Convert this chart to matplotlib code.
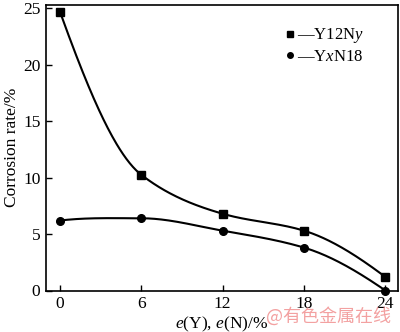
import numpy as np
import matplotlib
matplotlib.use("Agg")
import matplotlib.pyplot as plt
from matplotlib.lines import Line2D

plt.rcParams['font.family'] = ['Liberation Serif', 'DejaVu Serif']
plt.rcParams['mathtext.fontset'] = 'custom'
plt.rcParams['mathtext.rm'] = 'Liberation Serif'
plt.rcParams['mathtext.it'] = 'Liberation Serif:italic'

# 數據
content = [0, 6, 12, 18, 24]
y12ny = [24.7, 10.25, 6.8, 5.3, 1.2]
yxn18 = [6.2, 6.4, 5.3, 3.8, 0.0]
xticks = [0, 6, 12, 18, 24]
yticks = [0, 5, 10, 15, 20, 25]


def pchip(x, y, xs):
    # 單調三次插值, 只用來畫平滑曲線
    x = np.asarray(x, float)
    y = np.asarray(y, float)
    h = np.diff(x)
    d = np.diff(y) / h
    n = len(x)
    m = np.zeros(n)
    for k in range(1, n - 1):
        if d[k - 1] * d[k] > 0:
            w1 = 2 * h[k] + h[k - 1]
            w2 = h[k] + 2 * h[k - 1]
            m[k] = (w1 + w2) / (w1 / d[k - 1] + w2 / d[k])
    m[0] = ((2 * h[0] + h[1]) * d[0] - h[0] * d[1]) / (h[0] + h[1])
    if np.sign(m[0]) != np.sign(d[0]):
        m[0] = 0
    m[-1] = ((2 * h[-1] + h[-2]) * d[-1] - h[-1] * d[-2]) / (h[-1] + h[-2])
    if np.sign(m[-1]) != np.sign(d[-1]):
        m[-1] = 0
    idx = np.clip(np.searchsorted(x, xs) - 1, 0, n - 2)
    t = (xs - x[idx]) / h[idx]
    h00 = 2 * t**3 - 3 * t**2 + 1
    h10 = t**3 - 2 * t**2 + t
    h01 = -2 * t**3 + 3 * t**2
    h11 = t**3 - t**2
    return h00 * y[idx] + h10 * h[idx] * m[idx] + h01 * y[idx + 1] + h11 * h[idx] * m[idx + 1]


fig = plt.figure(figsize=(4.0, 3.32), dpi=100)
ax = fig.add_axes([0.115, 0.125, 0.88, 0.86])

xs = np.linspace(content[0], content[-1], 300)
ax.plot(xs, pchip(content, y12ny, xs), color='black', lw=1.5, clip_on=False)
ax.plot(xs, pchip(content, yxn18, xs), color='black', lw=1.5, clip_on=False)
ax.plot(content, y12ny, 's', color='black', ms=5.2, clip_on=False)
ax.plot(content, yxn18, 'o', color='black', ms=5.5, clip_on=False)

ax.set_xlim(-1.03, 24.93)
ax.set_ylim(0, 25.3)
ax.set_xticks(xticks)
ax.set_yticks(yticks)
ax.tick_params(axis='both', direction='in', length=4, width=1, labelsize=12.5, pad=4)
for s in ax.spines.values():
    s.set_linewidth(1.2)

ax.set_ylabel('Corrosion rate/%', fontsize=12.5, labelpad=2)
ax.set_xlabel(r'$e$(Y), $e$(N)/%', fontsize=12.5, labelpad=2)

handles = [Line2D([], [], marker='s', ls='none', color='black', ms=4),
           Line2D([], [], marker='o', ls='none', color='black', ms=4)]
ax.legend(handles, [r'—Y12N$y$', r'—Y$x$N18'], loc='upper left', frameon=False,
          fontsize=12, handlelength=0.5, handletextpad=0.2, labelspacing=0.2,
          bbox_to_anchor=(0.68, 0.925), borderaxespad=0, borderpad=0)

fig.text(0.665, 0.03, '@有色金属在线', color='#f08a8a', alpha=0.8, fontsize=13,
         family=['Noto Sans CJK SC', 'DejaVu Sans'])

fig.savefig('out.png', dpi=100)
